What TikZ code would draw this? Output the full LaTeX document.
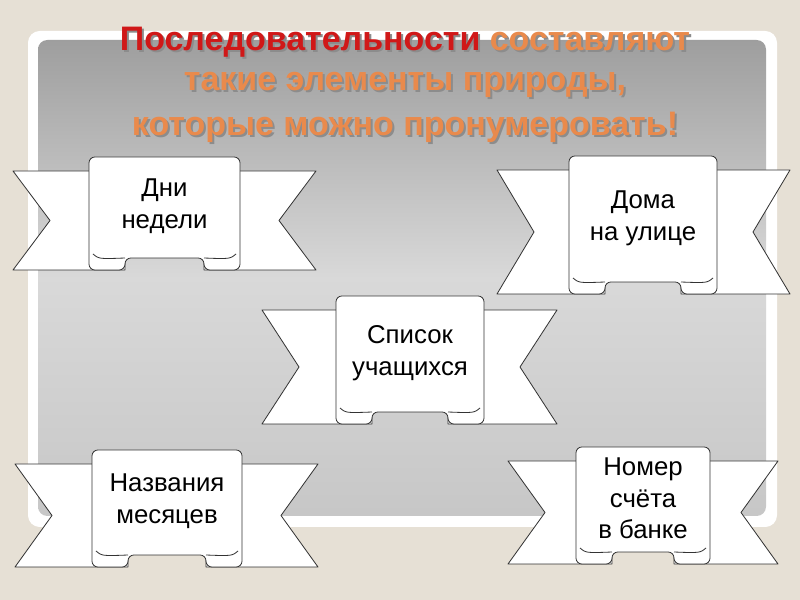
\documentclass[tikz,border=0pt]{standalone}
\usepackage{fontspec}
\setmainfont{Liberation Sans}
\definecolor{bg}{HTML}{E6E0D5}
\definecolor{ttlred}{HTML}{D01818}
\definecolor{ttlor}{HTML}{E98A4C}
\tikzset{rib/.style={draw=black!80,fill=white,line width=0.7pt,line join=round},
 lbl/.style={align=center,font=\fontsize{22}{27}\selectfont},
 ttl/.style={font=\bfseries\fontsize{29}{34}\selectfont}}
% #1 x0, #2 x1, #3 top, #4 bottom, #5 left tail x, #6 right tail x, #7 name, #8 text
\newcommand{\ribbon}[8]{%
 \pgfmathsetmacro{\rTt}{#3+14}\pgfmathsetmacro{\rTb}{#4+2}\pgfmathsetmacro{\rTm}{(\rTt+\rTb)/2}
 \pgfmathsetmacro{\rNl}{#5+37}\pgfmathsetmacro{\rNr}{#6-37}
 \pgfmathsetmacro{\rCl}{#1+36}\pgfmathsetmacro{\rCr}{#2-36}
 \pgfmathsetmacro{\rPb}{#4-10}
 \draw[rib] (\rCl,\rTt) -- (#5,\rTt) -- (\rNl,\rTm) -- (#5,\rTb) -- (\rCl,\rTb) -- cycle;
 \draw[rib] (\rCr,\rTt) -- (#6,\rTt) -- (\rNr,\rTm) -- (#6,\rTb) -- (\rCr,\rTb) -- cycle;
 \draw[rib,rounded corners=5] (#1,\rTb) -- (#1,#3) -- (#2,#3) -- (#2,\rTb) -- (\rCr,\rTb) -- (\rCr,\rPb) -- (\rCl,\rPb) -- (\rCl,\rTb) -- cycle;
 \draw[rib] (#1+4,\rPb-4) .. controls (#1+10,\rPb+1) .. (\rCl,\rPb);
 \draw[rib] (#2-4,\rPb-4) .. controls (#2-10,\rPb+1) .. (\rCr,\rPb);
 \node[lbl] (#7) at ({(#1+#2)/2},{(#3+#4)/2-6}) {#8};
}
\begin{document}
\begin{tikzpicture}[x=0.03cm,y=-0.03cm]
\fill[bg] (0,0) rectangle (800,600);
\useasboundingbox (0,0) rectangle (800,600);
\fill[white,rounded corners=10] (28,31) rectangle (777,527);
\shade[top color=black!38,bottom color=black!22,middle color=black!15,rounded corners=8] (38,40) rectangle (766,516);
\begin{scope}[shift={(2,2)}]
\node[ttl,text=black!45] (s1) at (405,42) {Последовательности составляют};
\node[ttl,text=black!45] (s2) at (405,85) {такие элементы природы,};
\node[ttl,text=black!45] (s3) at (405,127) {которые можно пронумеровать!};
\end{scope}
\node[ttl] (t1) at (405,42) {\textcolor{ttlred}{Последовательности} \textcolor{ttlor}{составляют}};
\node[ttl,text=ttlor] (t2) at (405,85) {такие элементы природы,};
\node[ttl,text=ttlor] (t3) at (405,127) {которые можно пронумеровать!};
\ribbon{89}{240}{157}{268}{13}{316}{b1}{Дни\\недели}
\ribbon{569}{717}{156}{292}{497}{790}{b2}{Дома\\на улице}
\ribbon{336}{484}{296}{422}{262}{557}{b3}{Список\\учащихся}
\ribbon{92}{242}{450}{565}{15}{318}{b4}{Названия\\месяцев}
\ribbon{576}{710}{447}{562}{508}{778}{b5}{Номер\\счёта\\в банке}
\end{tikzpicture}
\end{document}
